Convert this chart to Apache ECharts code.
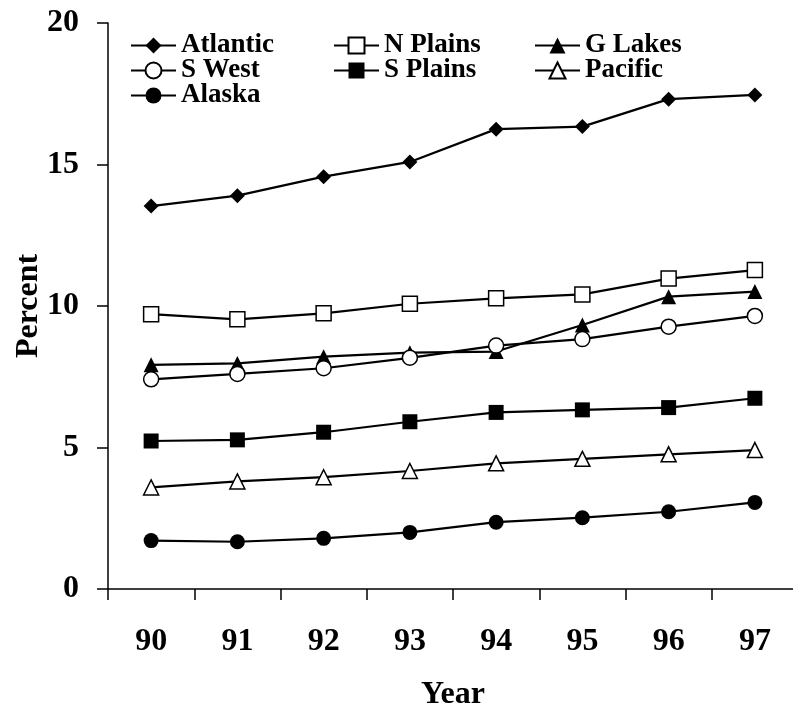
<!DOCTYPE html>
<html>
<head>
<meta charset="utf-8">
<style>html,body{margin:0;padding:0;background:#fff;}#c{width:793px;height:707px;}</style>
<script src="https://cdn.jsdelivr.net/npm/echarts@6/dist/echarts.min.js"></script>
</head>
<body>
<div id="c"></div>
<script>
var years = ['90', '91', '92', '93', '94', '95', '96', '97'];
var atlantic = [13.53, 13.90, 14.57, 15.09, 16.25, 16.34, 17.31, 17.46];
var nPlains  = [9.71, 9.53, 9.74, 10.08, 10.27, 10.41, 10.97, 11.27];
var gLakes   = [7.92, 7.97, 8.21, 8.35, 8.39, 9.33, 10.33, 10.51];
var sWest    = [7.41, 7.60, 7.80, 8.17, 8.60, 8.83, 9.27, 9.65];
var sPlains  = [5.23, 5.27, 5.54, 5.91, 6.24, 6.33, 6.41, 6.74];
var pacific  = [3.59, 3.80, 3.95, 4.17, 4.44, 4.60, 4.76, 4.91];
var alaska   = [1.71, 1.67, 1.79, 2.00, 2.36, 2.52, 2.73, 3.06];
var yTicks = [0, 5, 10, 15, 20];

var FONT = 'Liberation Serif';
var LEGEND_FONT = 'serif';
function mkSeries(name, data, symbol, hollow) {
  return {
    name: name, type: 'line', data: data, symbol: symbol, symbolSize: 15,
    lineStyle: { color: '#000', width: 2.2 },
    itemStyle: hollow ? { color: '#fff', borderColor: '#000', borderWidth: 1.5 }
                      : { color: '#000', borderWidth: 0 },
    emphasis: { disabled: true }
  };
}
function mkLegend(left, names) {
  return {
    orient: 'vertical', left: left, top: 32, padding: 0,
    itemWidth: 45, itemHeight: 20, itemGap: -2,
    selectedMode: false,
    textStyle: { fontFamily: LEGEND_FONT, fontWeight: 'bold', fontSize: 27, color: '#000' },
    data: names
  };
}
var chart = echarts.init(document.getElementById('c'));
chart.setOption({
  animation: false,
  backgroundColor: '#fff',
  grid: { left: 108, top: 23, bottom: 118, right: -5, containLabel: false, outerBoundsMode: 'none' },
  legend: [
    mkLegend(130, ['Atlantic', 'S West', 'Alaska']),
    mkLegend(333, ['N Plains', 'S Plains']),
    mkLegend(534, ['G Lakes', 'Pacific'])
  ],
  xAxis: {
    type: 'category', data: years, boundaryGap: true,
    name: 'Year', nameLocation: 'middle', nameGap: 90,
    nameTextStyle: { fontFamily: FONT, fontWeight: 'bold', fontSize: 32, color: '#000' },
    axisLine: { lineStyle: { color: '#000', width: 1.5 } },
    axisTick: { show: true, length: 11, inside: false, lineStyle: { color: '#000', width: 1.5 } },
    axisLabel: { fontFamily: FONT, fontWeight: 'bold', fontSize: 32, color: '#000', margin: 37 },
    splitLine: { show: false }
  },
  yAxis: {
    type: 'value', min: 0, max: 20, interval: 5,
    name: 'Percent', nameLocation: 'middle', nameGap: 63, nameRotate: 90, nameMoveOverlap: false,
    nameTextStyle: { fontFamily: FONT, fontWeight: 'bold', fontSize: 32, color: '#000' },
    axisLine: { show: true, lineStyle: { color: '#000', width: 1.5 } },
    axisTick: { show: true, length: 11, inside: false, lineStyle: { color: '#000', width: 1.5 } },
    axisLabel: { fontFamily: FONT, fontWeight: 'bold', fontSize: 32, color: '#000', margin: 29,
      formatter: function (v) { return yTicks.indexOf(v) >= 0 ? String(v) : ''; } },
    splitLine: { show: false }
  },
  series: [
    mkSeries('Atlantic', atlantic, 'diamond', false),
    mkSeries('N Plains', nPlains, 'rect', true),
    mkSeries('G Lakes', gLakes, 'triangle', false),
    mkSeries('S West', sWest, 'circle', true),
    mkSeries('S Plains', sPlains, 'rect', false),
    mkSeries('Pacific', pacific, 'triangle', true),
    mkSeries('Alaska', alaska, 'circle', false)
  ]
});
</script>
</body>
</html>
